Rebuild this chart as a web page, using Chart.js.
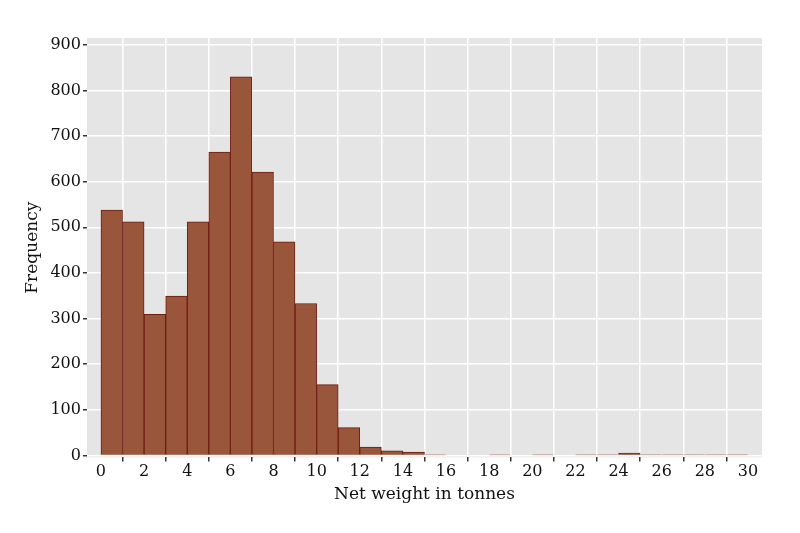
<!DOCTYPE html>
<html><head><meta charset="utf-8">
<script src="https://cdn.jsdelivr.net/npm/chart.js@4"></script>
<style>body{margin:0;background:#fff}#wrap{width:800px;height:533px}</style>
</head><body><div id="wrap"><canvas id="c"></canvas></div>
<script>
// histogram bins: left edges in tonnes, counts
const binStarts = [0,1,2,3,4,5,6,7,8,9,10,11,12,13,14,15,16,17,18,19,20,21,22,23,24,25,26,27,28,29];
const counts = [538,512,309,349,512,665,830,621,468,333,155,61,18,10,7,1,0,0,1,0,1,0,1,1,5,1,1,1,1,1];
const xTicks = [0,2,4,6,8,10,12,14,16,18,20,22,24,26,28,30];
const yTicks = [0,100,200,300,400,500,600,700,800,900];

const bgPlugin = {
  id: 'plotbg',
  beforeDraw(chart){
    const a = chart.chartArea, ctx = chart.ctx;
    ctx.save(); ctx.fillStyle = '#e5e5e5';
    ctx.fillRect(a.left, a.top, a.right - a.left, a.bottom - a.top);
    ctx.restore();
  }
};

const font = {family: 'DejaVu Serif', size: 16};

new Chart(document.getElementById('c'), {
  type: 'bar',
  data: {datasets: [{
    data: binStarts.map((s, i) => ({x: s + 0.5, y: counts[i]})),
    backgroundColor: '#99563a',
    borderColor: '#6e1c12',
    borderWidth: 1,
    barPercentage: 1, categoryPercentage: 1
  }]},
  options: {
    responsive: true, maintainAspectRatio: false, animation: false,
    layout: {padding: {left: 18, right: 38, top: 38, bottom: 24}},
    plugins: {legend: {display: false}, tooltip: {enabled: false}},
    scales: {
      x: {
        type: 'linear', min: -0.65, max: 30.65, offset: false,
        afterBuildTicks: ax => { ax.ticks = xTicks.map(v => ({value: v})); },
        grid: {color: '#ffffff', lineWidth: 1.5, drawTicks: true, tickColor: '#333', tickLength: 4},
        border: {display: false},
        ticks: {color: '#111', font: font, padding: 1},
        title: {display: true, text: 'Net weight in tonnes', color: '#111', font: {family: 'DejaVu Serif', size: 17}, padding: {top: 2}}
      },
      y: {
        min: -4.4, max: 915,
        afterBuildTicks: ax => { ax.ticks = yTicks.map(v => ({value: v})); },
        grid: {color: '#ffffff', lineWidth: 1.5, tickColor: '#333', tickLength: 4},
        border: {display: false},
        ticks: {color: '#111', font: font, padding: 2},
        title: {display: true, text: 'Frequency', color: '#111', font: {family: 'DejaVu Serif', size: 17}, padding: {bottom: 6}}
      }
    }
  },
  plugins: [bgPlugin]
});
</script></body></html>
